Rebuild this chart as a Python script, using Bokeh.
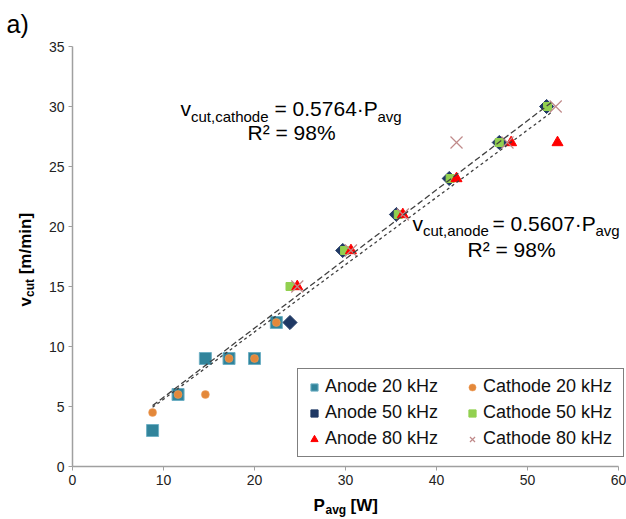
import math
from bokeh.plotting import figure
from bokeh.models import Range1d, Label, Legend, LegendItem
from bokeh.embed import file_html
from bokeh.resources import INLINE

# ---------------- data ----------------
P_ANODE_20 = [8.8, 11.6, 14.6, 17.2, 20.0, 22.4]
V_ANODE_20 = [3, 6, 9, 9, 9, 12]
P_CATHODE_20 = [8.8, 11.6, 14.6, 17.2, 20.0, 22.4]
V_CATHODE_20 = [4.5, 6, 6, 9, 9, 12]
P_ANODE_50 = [23.9, 29.7, 35.6, 41.4, 46.9, 52.1]
V_ANODE_50 = [12, 18, 21, 24, 27, 30]
P_CATHODE_50 = [23.9, 29.9, 35.8, 41.5, 46.9, 52.2]
V_CATHODE_50 = [15, 18, 21, 24, 27, 30]
P_ANODE_80 = [24.7, 30.6, 36.3, 42.2, 48.2, 53.3]
V_ANODE_80 = [15, 18, 21, 24, 27, 27]
P_CATHODE_80 = [24.7, 30.6, 36.3, 42.2, 47.8, 53.1]
V_CATHODE_80 = [15, 18, 21, 27, 27, 30]

SLOPE_CATHODE = 0.5764
SLOPE_ANODE = 0.5607
TREND_X = [8.8, 52.6]

X_TICKS = [0, 10, 20, 30, 40, 50, 60]
Y_TICKS = [0, 5, 10, 15, 20, 25, 30, 35]

FONT = "Liberation Sans"

# layout: the plot area (0..60 x 0..35) occupies pixels x 72..618, y 46..466
W, H = 626, 519
X0, XS = 72.0, 9.1      # pixel of P=0, pixels per W
Y0, YS = 466.0, 12.0    # pixel of v=0, pixels per m/min

p = figure(width=W, height=H, output_backend="svg", toolbar_location=None,
           x_range=Range1d(-X0 / XS, (W - X0) / XS),
           y_range=Range1d((Y0 - H) / YS, Y0 / YS),
           min_border=0)
p.background_fill_color = "white"
p.border_fill_color = "white"
p.outline_line_color = None
p.grid.visible = False

for ax, bnds, ticks in ((p.xaxis[0], (0, 60), X_TICKS), (p.yaxis[0], (0, 35), Y_TICKS)):
    ax.fixed_location = 0
    ax.bounds = bnds
    ax.ticker = ticks
    ax.axis_line_color = "#a0a0a0"
    ax.axis_line_width = 1.5
    ax.major_tick_line_color = "#a0a0a0"
    ax.major_tick_out = 4
    ax.major_tick_in = 0
    ax.minor_tick_line_color = None
    ax.major_label_text_font = FONT
    ax.major_label_text_font_size = "14px"
    ax.major_label_text_color = "#222222"
    ax.major_label_standoff = 4

# ---------------- markers ----------------
r_a20 = p.scatter(P_ANODE_20, V_ANODE_20, marker="square", size=12,
                  fill_color="#31849b", line_color="#6fb0c4", line_width=1)
r_c20 = p.scatter(P_CATHODE_20, V_CATHODE_20, marker="circle", size=8,
                  fill_color="#e3883a", line_color="#f0a060", line_width=0.5)
r_a50 = p.scatter(P_ANODE_50, V_ANODE_50, marker="square", size=10, angle=math.pi / 4,
                  fill_color="#1f3864", line_color="#1f3864")
r_c50 = p.scatter(P_CATHODE_50, V_CATHODE_50, marker="square", size=8,
                  fill_color="#92d050", line_color="#92d050")
r_a80 = p.scatter(P_ANODE_80, V_ANODE_80, marker="triangle", size=11,
                  fill_color="#ff0000", line_color="#ff0000")
r_c80 = p.scatter(P_CATHODE_80, V_CATHODE_80, marker="x", size=17,
                  line_color="#c08a8a", line_width=1.2)

# ---------------- trend lines ----------------
p.line(TREND_X, [SLOPE_CATHODE * x for x in TREND_X], line_color="#404040",
       line_width=1.3, line_dash="6 3")
p.line(TREND_X, [SLOPE_ANODE * x for x in TREND_X], line_color="#404040",
       line_width=1.3, line_dash="3 3")

# ---------------- legend ----------------
legend = Legend(items=[
    LegendItem(label="Anode 20 kHz", renderers=[r_a20]),
    LegendItem(label="Anode 50 kHz", renderers=[r_a50]),
    LegendItem(label="Anode 80 kHz", renderers=[r_a80]),
    LegendItem(label="Cathode 20 kHz", renderers=[r_c20]),
    LegendItem(label="Cathode 50 kHz", renderers=[r_c50]),
    LegendItem(label="Cathode 80 kHz", renderers=[r_c80]),
], location=(297, H - 457), orientation="vertical", nrows=3)
legend.label_text_font = FONT
legend.label_text_font_size = "18px"
legend.label_text_color = "#111111"
legend.border_line_color = "black"
legend.border_line_width = 1
legend.background_fill_color = "white"
legend.background_fill_alpha = 1
legend.glyph_width = 18
legend.glyph_height = 20
legend.label_standoff = 2
legend.label_width = 133
legend.label_height = 20
legend.spacing = 5
legend.padding = 7
legend.margin = 0
p.add_layout(legend, "center")


# ---------------- text annotations ----------------
def dx(sx):
    return (sx - X0) / XS


def dy(sy):
    return (Y0 - sy) / YS


def lab(text, sx, sy, size, bold=False, angle=0):
    # sy is the vertical middle of the text
    p.add_layout(Label(x=dx(sx), y=dy(sy), text=text, text_font=FONT,
                       text_font_size=f"{size}px", text_color="black",
                       text_font_style="bold" if bold else "normal",
                       angle=angle, text_baseline="middle", text_align="left"))


# cathode equation
lab("v", 180, 108, 21)
lab("cut,cathode", 190.5, 116, 15)
lab("= 0.5764\u00b7P", 274, 108, 21)
lab("avg", 377, 116, 15)
lab("R\u00b2 = 98%", 247, 132, 21)

# anode equation
lab("v", 412, 223, 21)
lab("cut,anode", 422.5, 230, 15)
lab("= 0.5607\u00b7P", 492, 223, 21)
lab("avg", 595, 230, 15)
lab("R\u00b2 = 98%", 467, 249, 21)

# axis titles
lab("P", 313, 505, 17, bold=True)
lab("avg", 325, 509, 12, bold=True)
lab("[W]", 350, 505, 17, bold=True)

lab("v", 25, 306, 17, bold=True, angle=math.pi / 2)
lab("cut", 29, 296.5, 12, bold=True, angle=math.pi / 2)
lab("[m/min]", 25, 273.8, 17, bold=True, angle=math.pi / 2)

# panel tag
lab("a)", 6, 23, 25)

open("out.html", "w").write(file_html(p, INLINE))
